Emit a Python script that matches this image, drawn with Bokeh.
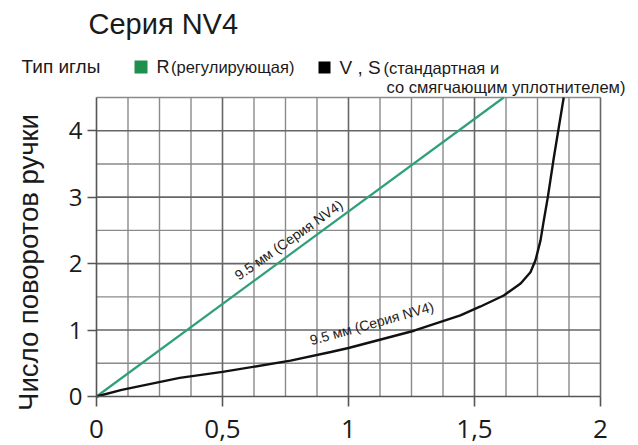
import math
from bokeh.plotting import figure
from bokeh.models import Range1d, FixedTicker, Label, BoxAnnotation, LinearAxis
from bokeh.embed import file_html
from bokeh.resources import INLINE

# ---- data ----
title_text = "Серия NV4"
y_title = "Число поворотов ручки"
legend_head = "Тип иглы"
r_name = "R"
r_desc = "(регулирующая)"
vs_name = "V , S"
vs_desc1 = "(стандартная и"
vs_desc2 = "со смягчающим уплотнителем)"
curve_label = "9.5 мм (Серия NV4)"

green_x = [0.0, 1.616]
green_y = [0.0, 4.5]

black_x = [0.0, 0.1, 0.33, 0.5, 0.77, 0.93, 1.0, 1.26, 1.444, 1.524, 1.616, 1.683, 1.722,
           1.742, 1.762, 1.775, 1.791, 1.815, 1.854]
black_y = [0.0, 0.1, 0.28, 0.37, 0.54, 0.67, 0.73, 0.99, 1.22, 1.355, 1.52, 1.70, 1.87,
           2.05, 2.35, 2.65, 3.0, 3.6, 4.5]

X_MAX = 2.0
Y_MAX = 4.5
x_ticks = [0, 0.5, 1, 1.5, 2]
x_tick_labels = {0.5: "0,5", 1.5: "1,5"}
y_ticks = [0, 1, 2, 3, 4]
x_grid_major = [0.5, 1, 1.5, 2]
x_grid_minor = [0.125, 0.25, 0.375, 0.625, 0.75, 0.875, 1.125, 1.25, 1.375, 1.625, 1.75, 1.875]
y_grid_major = [1, 2, 3, 4]
y_grid_minor = [0.5, 1.5, 2.5, 3.5, 4.5]

GREEN = "#2f9f7c"
BLACK = "#111111"
FONT = "Liberation Sans"
TXT = "#1a1a1a"

W, H = 638, 445
# plot-area placement on the page (pixels)
PX_L, PX_R, PX_T, PX_B = 96, 600, 97, 396
KX = (PX_R - PX_L) / X_MAX
KY = (PX_B - PX_T) / Y_MAX
BASE_FIX = 0.33  # em shift so the alphabetic baseline lands where wanted


def fx(px):
    return (px - PX_L) / KX


def fy(py):
    return (PX_B - py) / KY


p = figure(width=W, height=H, output_backend="svg", toolbar_location=None,
           x_range=Range1d(fx(0), fx(W)), y_range=Range1d(fy(H), fy(0)),
           x_axis_location=None, y_axis_location=None,
           min_border=0, min_border_left=0, min_border_right=0,
           min_border_top=0, min_border_bottom=0)
p.grid.visible = False
p.outline_line_color = None
p.background_fill_color = "white"
p.border_fill_color = "white"


def text(px, py, s, size, angle=0.0, align="left", color=TXT, font=FONT):
    d = BASE_FIX * size
    ax = px - d * math.sin(angle)
    ay = py - d * math.cos(angle)
    p.add_layout(Label(x=fx(ax), y=fy(ay), text=s, angle=angle, text_align=align,
                       text_baseline="alphabetic", text_font=font,
                       text_font_size=f"{size}px", text_color=color))


# grid
p.segment(x0=x_grid_minor, y0=[0] * len(x_grid_minor), x1=x_grid_minor, y1=[Y_MAX] * len(x_grid_minor),
          line_color="#8a8a8a", line_width=1.4)
p.segment(x0=[0] * len(y_grid_minor), y0=y_grid_minor, x1=[X_MAX] * len(y_grid_minor), y1=y_grid_minor,
          line_color="#8a8a8a", line_width=1.4)
p.segment(x0=x_grid_major, y0=[0] * len(x_grid_major), x1=x_grid_major, y1=[Y_MAX] * len(x_grid_major),
          line_color="#666666", line_width=1.6)
p.segment(x0=[0] * len(y_grid_major), y0=y_grid_major, x1=[X_MAX] * len(y_grid_major), y1=y_grid_major,
          line_color="#666666", line_width=1.6)

# axes at fixed data locations
xaxis = LinearAxis(ticker=FixedTicker(ticks=x_ticks), fixed_location=0, bounds=(0, X_MAX))
yaxis = LinearAxis(ticker=FixedTicker(ticks=y_ticks), fixed_location=0, bounds=(0, Y_MAX))
xaxis.major_label_overrides = x_tick_labels
for ax in (xaxis, yaxis):
    ax.axis_line_color = "#555555"
    ax.axis_line_width = 1.6
    ax.major_tick_line_color = "#555555"
    ax.major_tick_line_width = 1.6
    ax.major_tick_in = 0
    ax.minor_tick_line_color = None
    ax.major_label_text_color = TXT
    ax.major_label_text_font = "Open Sans"
xaxis.major_tick_out = 10
xaxis.major_label_standoff = 13
xaxis.major_label_text_font_size = "26px"
yaxis.major_tick_out = 9
yaxis.major_label_standoff = 5
yaxis.major_label_text_font_size = "24px"
p.add_layout(xaxis, "below")
p.add_layout(yaxis, "left")

# curves
p.line(green_x, green_y, line_color=GREEN, line_width=2.2)
p.line(black_x, black_y, line_color=BLACK, line_width=2.4)

# curve labels
text(290.8, 243.2, curve_label, 14, angle=0.611, align="center", color="#222222")
text(372.5, 327.3, curve_label, 14, angle=0.272, align="center", color="#222222")

# y-axis title
p.add_layout(Label(x=fx(28), y=fy(262), text=y_title, angle=1.5708, text_align="center",
                   text_baseline="middle", text_font=FONT, text_font_size="27.5px",
                   text_color=TXT))

# title
text(88, 33.5, title_text, 29)

# legend row
text(21, 72, legend_head, 19)
p.add_layout(BoxAnnotation(left=fx(134), right=fx(147), bottom=fy(73), top=fy(60),
                           fill_color="#1f8f4e", fill_alpha=1, line_color=None))
text(156, 72, r_name, 18)
text(170.5, 72, r_desc, 16.5)
p.add_layout(BoxAnnotation(left=fx(318), right=fx(330), bottom=fy(73), top=fy(61),
                           fill_color="#000000", fill_alpha=1, line_color=None))
text(339, 73.5, vs_name, 19)
text(383, 72.7, vs_desc1, 16.5)
text(386, 91.7, vs_desc2, 16.5)

open("out.html", "w").write(file_html(p, INLINE))
